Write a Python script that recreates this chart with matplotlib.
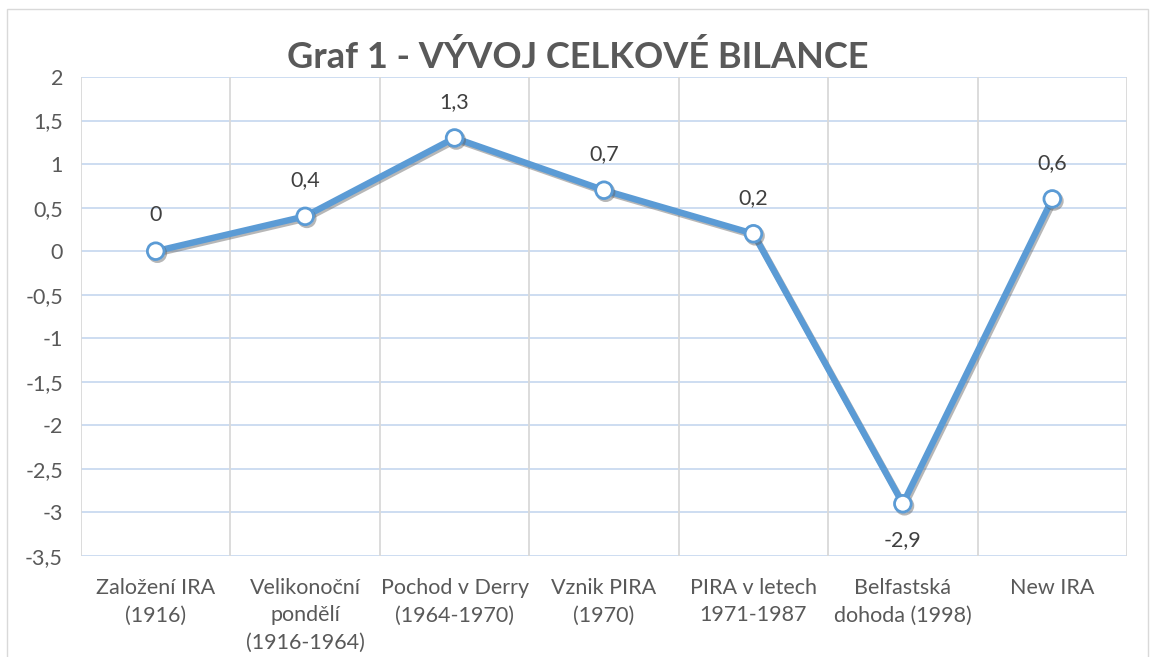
import matplotlib.pyplot as plt
import matplotlib.patheffects as pe
from matplotlib.patches import Rectangle
import numpy as np

plt.rcParams['font.family'] = ['Lato', 'DejaVu Sans']

categories = ["Založení IRA\n(1916)", "Velikonoční\npondělí\n(1916-1964)",
              "Pochod v Derry\n(1964-1970)", "Vznik PIRA\n(1970)",
              "PIRA v letech\n1971-1987", "Belfastská\ndohoda (1998)", "New IRA"]
values = [0, 0.4, 1.3, 0.7, 0.2, -2.9, 0.6]
yticks = [2, 1.5, 1, 0.5, 0, -0.5, -1, -1.5, -2, -2.5, -3, -3.5]

LINE = "#5b9bd5"
TXT = "#595959"

fig = plt.figure(figsize=(11.56, 6.57), dpi=100)
fig.patches.append(Rectangle((7/1156, -0.01), 1141/1156, (657-9)/657 + 0.01,
                             transform=fig.transFigure, fill=False,
                             edgecolor="#d9d9d9", linewidth=1))
ax = fig.add_axes([81/1156, 1-556/657, 1046/1156, 479/657])

x = np.arange(len(values))
ax.set_xlim(-0.5, len(values) - 0.5)
ax.set_ylim(-3.5, 2)
ax.set_yticks(yticks)
ax.set_yticklabels([f"{t:g}".replace('.', ',') for t in yticks], color=TXT, fontsize=15.5)
ax.set_xticks(x)
ax.set_xticklabels(categories, color=TXT, fontsize=15.5, linespacing=1.45)
ax.tick_params(axis='y', length=0, pad=13)
ax.tick_params(axis='x', length=0, pad=16)

for s in ax.spines.values():
    s.set_visible(False)
for t in yticks:
    ax.axhline(t, color="#c9daf0", linewidth=1.3, zorder=1)
for b in np.arange(-0.5, len(values), 1):
    ax.axvline(b, color="#d9d9d9", linewidth=1.3, zorder=1)

ax.plot(x, values, color=LINE, linewidth=4.6, solid_capstyle='round', zorder=3,
        marker='o', markersize=12, markerfacecolor='white',
        markeredgecolor=LINE, markeredgewidth=2,
        path_effects=[pe.SimpleLineShadow(offset=(1.2, -1.5), shadow_color='#606060', alpha=0.45),
                      pe.Normal()])

for xi, v in zip(x, values):
    off = -26 if v < -2 else 26
    ax.annotate(f"{v:g}".replace('.', ','), (xi, v), xytext=(0, off),
                textcoords='offset points', ha='center', va='center',
                color="#404040", fontsize=15.5)

fig.text(0.5, 1 - 57/657, "Graf 1 - VÝVOJ CELKOVÉ BILANCE", ha='center', va='center',
         color=TXT, fontsize=26, fontweight='bold')

fig.savefig("out.png", dpi=100)
